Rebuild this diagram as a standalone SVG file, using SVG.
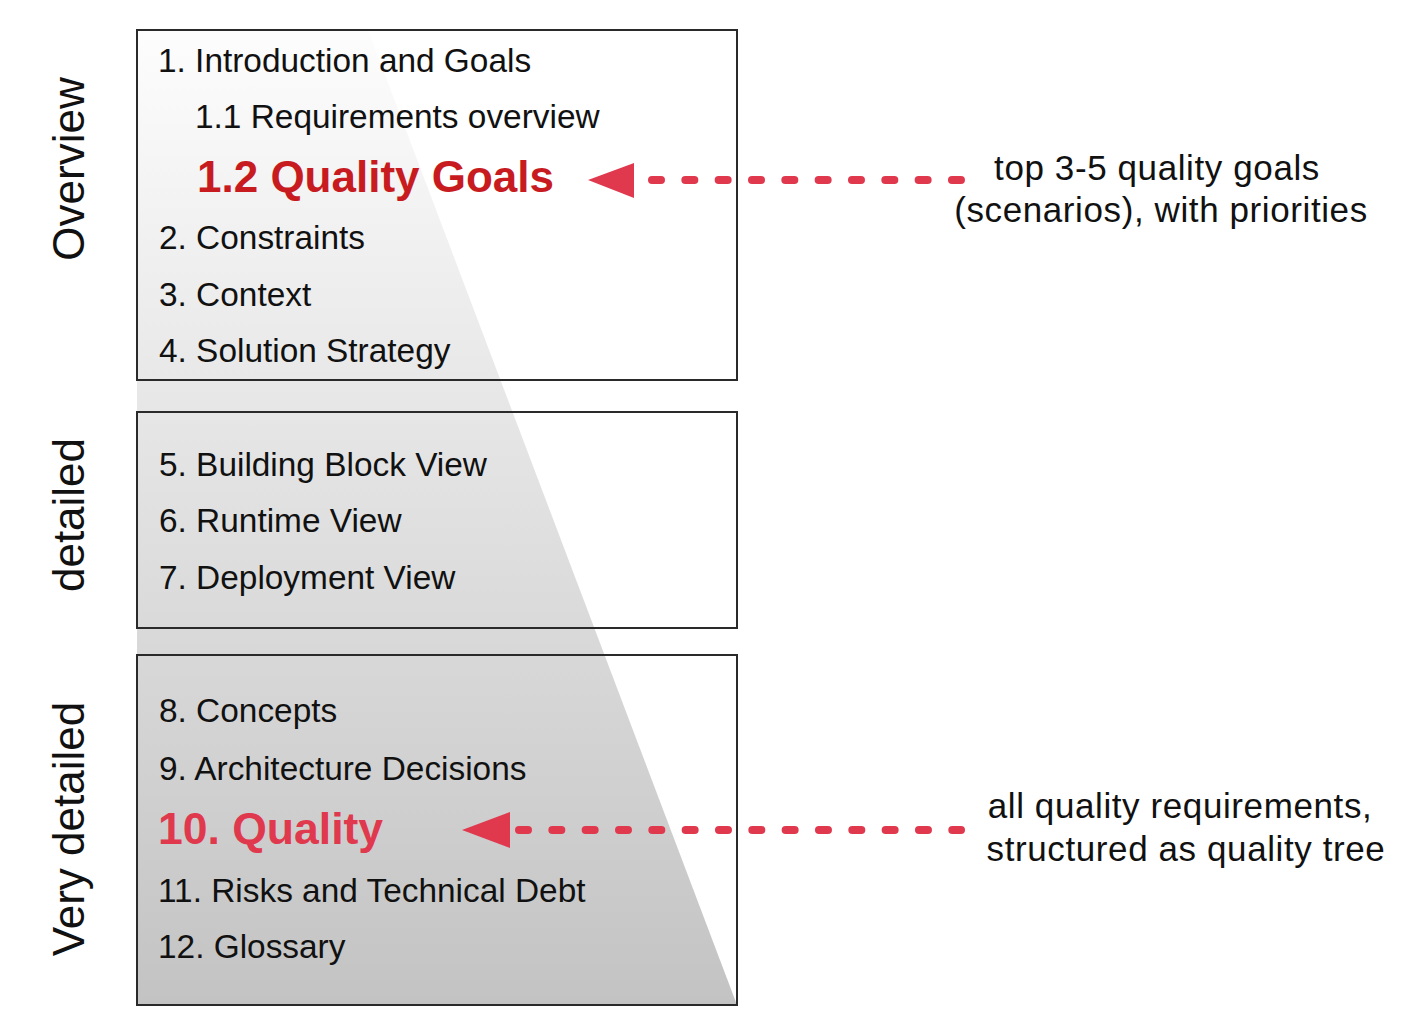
<svg xmlns="http://www.w3.org/2000/svg" width="1427" height="1036" viewBox="0 0 1427 1036">
<style>
.item{font-family:"Liberation Sans",Arial,sans-serif;font-size:33.4px;fill:#111}
.hi1{font-family:"Liberation Sans",Arial,sans-serif;font-size:44px;font-weight:bold;fill:#c81b1f}
.hi2{font-family:"Liberation Sans",Arial,sans-serif;font-size:44.5px;font-weight:bold;fill:#e0394e}
.side{font-family:"Liberation Sans",Arial,sans-serif;font-size:44px;fill:#111;text-anchor:middle}
.note{font-family:"Liberation Sans",Arial,sans-serif;font-size:35px;letter-spacing:0.6px;fill:#111;text-anchor:middle}
.box{fill:none;stroke:#2a2a2a;stroke-width:2}
.dash{fill:none;stroke:#e0394e;stroke-width:8;stroke-linecap:round;stroke-dasharray:9 24.33}
.head{fill:#e0394e}
</style>
<defs>
<linearGradient id="g" gradientUnits="userSpaceOnUse" x1="0" y1="30" x2="0" y2="1005">
<stop offset="0" stop-color="#fdfdfd"/>
<stop offset="1" stop-color="#c3c3c3"/>
</linearGradient>
</defs>
<rect width="1427" height="1036" fill="#ffffff"/>
<polygon id="funnel" points="137,30 368,30 737,1005 137,1005" fill="url(#g)"/>
<g id="side-labels">
<text class="side" transform="translate(84,169) rotate(-90)">Overview</text>
<text class="side" transform="translate(84,515) rotate(-90)">detailed</text>
<text class="side" transform="translate(84,829) rotate(-90)">Very detailed</text>
</g>
<g id="box-overview">
<rect class="box" x="137" y="30" width="600" height="350"/>
<text class="item" x="158" y="72">1. Introduction and Goals</text>
<text class="item" x="195" y="128">1.1 Requirements overview</text>
<text class="hi1" x="197" y="192">1.2 Quality Goals</text>
<text class="item" x="159" y="249">2. Constraints</text>
<text class="item" x="159" y="306">3. Context</text>
<text class="item" x="159" y="362">4. Solution Strategy</text>
</g>
<g id="box-detailed">
<rect class="box" x="137" y="412" width="600" height="216"/>
<text class="item" x="159" y="476">5. Building Block View</text>
<text class="item" x="159" y="532">6. Runtime View</text>
<text class="item" x="159" y="589">7. Deployment View</text>
</g>
<g id="box-very-detailed">
<rect class="box" x="137" y="655" width="600" height="350"/>
<text class="item" x="159" y="722">8. Concepts</text>
<text class="item" x="159" y="780">9. Architecture Decisions</text>
<text class="hi2" x="158" y="844">10. Quality</text>
<text class="item" x="158" y="902">11. Risks and Technical Debt</text>
<text class="item" x="158" y="958">12. Glossary</text>
</g>
<g id="note-top">
<text class="note" x="1157" y="180">top 3-5 quality goals</text>
<text class="note" x="1161" y="222">(scenarios), with priorities</text>
</g>
<g id="note-bottom">
<text class="note" x="1180" y="818">all quality requirements,</text>
<text class="note" x="1186" y="861">structured as quality tree</text>
</g>
<g id="connectors">
<path class="dash" d="M652,180 H961"/>
<polygon class="head" points="588,180 634,163 634,198"/>
<path class="dash" d="M519,830 H961"/>
<polygon class="head" points="462,830 510,812 510,848"/>
</g>
</svg>
